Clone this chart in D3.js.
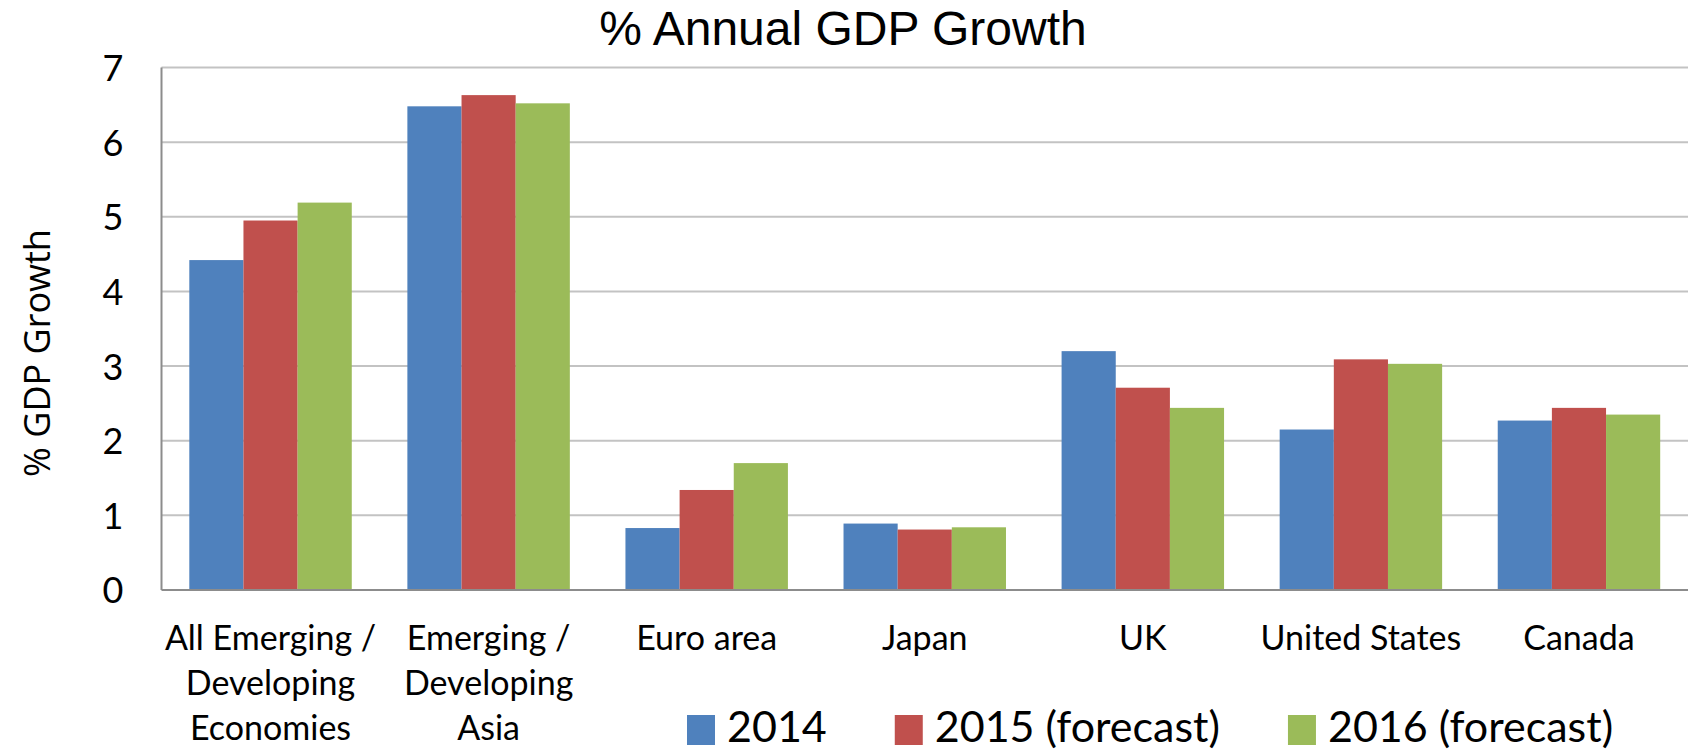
<!DOCTYPE html>
<html>
<head>
<meta charset="utf-8">
<script src="https://cdn.jsdelivr.net/npm/d3@7"></script>
<style>
  body { margin: 0; background: #fff; }
  .title { font-family: "Liberation Sans", Arial, sans-serif; font-size: 48px; fill: #000; }
  .tick text, .cat, .legend text { font-family: Lato, "Open Sans", sans-serif; fill: #000; }
  .ytitle { font-family: "Open Sans", "Noto Sans", sans-serif; font-size: 36px; fill: #000; }
</style>
</head>
<body>
<div id="chart"></div>
<script>
// categories and series
let categories = [
  ["All Emerging /", "Developing", "Economies"],
  ["Emerging /", "Developing", "Asia"],
  ["Euro area"],
  ["Japan"],
  ["UK"],
  ["United States"],
  ["Canada"]
];
let seriesNames = ["2014", "2015 (forecast)", "2016 (forecast)"];
let seriesColors = ["#4F81BD", "#C0504D", "#9BBB59"];
let growth2014 = [4.42, 6.48, 0.83, 0.89, 3.20, 2.15, 2.27];
let growth2015 = [4.95, 6.63, 1.34, 0.81, 2.71, 3.09, 2.44];
let growth2016 = [5.19, 6.52, 1.70, 0.84, 2.44, 3.03, 2.35];
let yTicks = [0, 1, 2, 3, 4, 5, 6, 7];

let width = 1688, height = 753;
let plotLeft = 161.5, plotRight = 1688, plotTop = 67.5, plotBottom = 590;

let svg = d3.select("#chart").append("svg")
  .attr("width", width)
  .attr("height", height);

let catIndex = categories.map((c, i) => i);

let x = d3.scaleBand()
  .domain(catIndex)
  .range([plotLeft, plotRight])
  .paddingInner(0.255)
  .paddingOuter(0.1275);

let xSub = d3.scaleBand()
  .domain([0, 1, 2])
  .range([0, x.bandwidth()]);

let y = d3.scaleLinear()
  .domain([0, 7])
  .range([plotBottom, plotTop]);

// gridlines
svg.append("g")
  .selectAll("line")
  .data(yTicks.filter(d => d > 0))
  .enter()
  .append("line")
  .attr("x1", plotLeft)
  .attr("x2", plotRight)
  .attr("y1", d => y(d))
  .attr("y2", d => y(d))
  .style("stroke", "#C3C3C3")
  .style("stroke-width", 2);

// bars
let rows = catIndex.map(i => [growth2014[i], growth2015[i], growth2016[i]]);

let groups = svg.append("g")
  .selectAll("g")
  .data(rows)
  .enter()
  .append("g")
  .attr("transform", (d, i) => "translate(" + x(i) + ",0)");

groups.selectAll("rect")
  .data(d => d)
  .enter()
  .append("rect")
  .attr("x", (d, j) => xSub(j))
  .attr("y", d => y(d))
  .attr("width", xSub.bandwidth())
  .attr("height", d => y(0) - y(d))
  .attr("fill", (d, j) => seriesColors[j]);

// axes lines
svg.append("line")
  .attr("x1", plotLeft).attr("x2", plotLeft)
  .attr("y1", plotTop).attr("y2", plotBottom)
  .style("stroke", "#8C8C8C").style("stroke-width", 2);

svg.append("line")
  .attr("x1", plotLeft).attr("x2", plotRight)
  .attr("y1", plotBottom).attr("y2", plotBottom)
  .style("stroke", "#8C8C8C").style("stroke-width", 2);

// y ticks
let yAxis = d3.axisLeft(y).tickValues(yTicks).tickFormat(d3.format("d")).tickSize(0).tickPadding(0);
let yg = svg.append("g")
  .attr("transform", "translate(113,0)")
  .call(yAxis);
yg.select(".domain").remove();
yg.selectAll("text")
  .attr("text-anchor", "middle")
  .attr("dy", "0.36em")
  .style("font-size", "36px");

// category labels
svg.append("g")
  .selectAll("text")
  .data(categories)
  .enter()
  .append("text")
  .classed("cat", true)
  .attr("text-anchor", "middle")
  .style("font-size", "34px")
  .attr("transform", (d, i) => "translate(" + (x(i) + x.bandwidth() / 2) + ",650)")
  .selectAll("tspan")
  .data(d => d)
  .enter()
  .append("tspan")
  .attr("x", 0)
  .attr("y", (d, k) => k * 45)
  .text(d => d);

// title
svg.append("text")
  .classed("title", true)
  .attr("x", 843)
  .attr("y", 45)
  .attr("text-anchor", "middle")
  .text("% Annual GDP Growth");

// y axis title
svg.append("text")
  .classed("ytitle", true)
  .attr("transform", "translate(50,353) rotate(-90)")
  .attr("text-anchor", "middle")
  .text("% GDP Growth");

// legend
let legend = svg.append("g").classed("legend", true);
let lx = 687;
seriesNames.forEach((name, j) => {
  legend.append("rect")
    .attr("x", lx)
    .attr("y", 715)
    .attr("width", 28)
    .attr("height", 30)
    .attr("fill", seriesColors[j]);
  let t = legend.append("text")
    .attr("x", lx + 40)
    .attr("y", 742)
    .style("font-size", "43px")
    .text(name);
  lx = lx + 40 + t.node().getComputedTextLength() + 68;
});
</script>
</body>
</html>
